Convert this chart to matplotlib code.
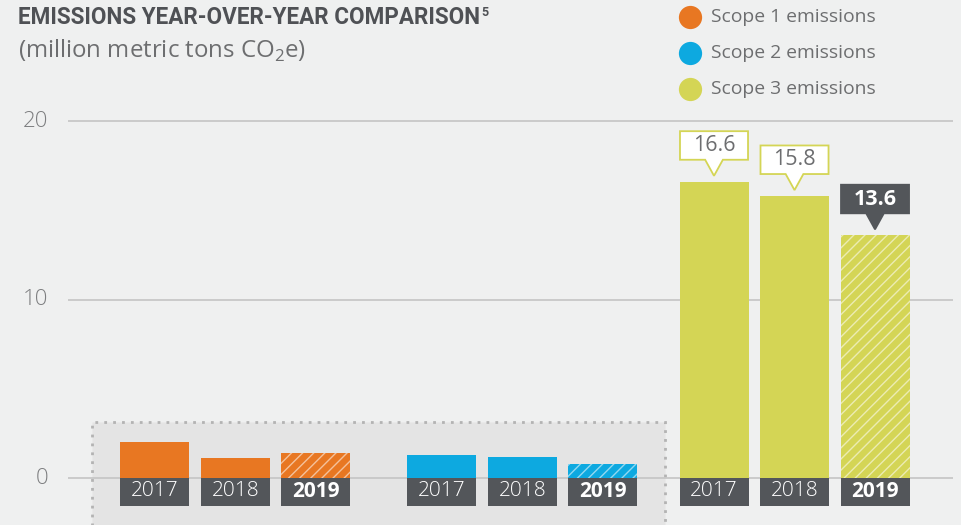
import matplotlib.pyplot as plt
from matplotlib.patches import Rectangle, Polygon

plt.rcParams['font.family'] = ['Open Sans', 'DejaVu Sans']
plt.rcParams['mathtext.fontset'] = 'custom'
plt.rcParams['mathtext.rm'] = 'Open Sans'
plt.rcParams['hatch.linewidth'] = 1.0

# data
years = ['2017', '2018', '2019']
scopes = ['Scope 1 emissions', 'Scope 2 emissions', 'Scope 3 emissions']
scope1 = [2.0, 1.1, 1.4]
scope2 = [1.3, 1.2, 0.8]
scope3 = [16.6, 15.8, 13.6]
yticks = [0, 10, 20]

colors = ['#e87722', '#0da9e0', '#d4d555']
dark = '#53565a'
txt = '#6d6e70'
bg = '#eff0f0'

fig = plt.figure(figsize=(9.61, 5.25), dpi=100)
fig.patch.set_facecolor(bg)
ax = fig.add_axes([0, 0, 1, 1])
ax.set_facecolor(bg)
ax.set_xlim(-1.925, 10.012)
ax.set_ylim(-2.633, 26.78)
ax.axis('off')
r = fig.canvas.get_renderer()


def fit_width(t, px):
    # scale a text's font so it spans px pixels, like the reference
    fs = t.get_fontsize()
    t.set_fontsize(fs * px / t.get_window_extent(r).width)


group_start = [0, 3.565, 6.944]
width = 0.857

# grey dotted box behind scope 1 and 2
ax.add_patch(Rectangle((-0.783, -3.2), 7.118, 6.34, facecolor='#e4e4e4',
                       edgecolor='#b3b3b3', linestyle=(0, (1, 2.2)), linewidth=2,
                       zorder=0))

# gridlines
for t in yticks:
    ax.hlines(t, -1.081, 9.913, color='#c4c4c4', linewidth=1.2, zorder=1)
    ax.text(-1.33, t, str(t), ha='right', va='center', fontsize=16,
            color='#7d7e80', fontweight='light')

for g, vals in enumerate([scope1, scope2, scope3]):
    xs = [group_start[g] + i for i in range(3)]
    for i, (x, v) in enumerate(zip(xs, vals)):
        if i == 2:
            ax.bar(x, v, width=width, color=colors[g], edgecolor=(1, 1, 1, 0.55),
                   linewidth=0, hatch='///', zorder=2)
        else:
            ax.bar(x, v, width=width, color=colors[g], linewidth=0, zorder=2)
        # year label box
        ax.bar(x, -1.57, width=width, color=dark, linewidth=0, zorder=3)
        ax.text(x, -0.74, years[i], ha='center', va='center', fontsize=15,
                color='white', fontweight='bold' if i == 2 else 'light', zorder=4)

# callouts on scope 3
xs3 = [group_start[2] + i for i in range(3)]
bw, bh, ph, pw = 0.845, 1.6, 0.9, 0.11
for i, (x, v) in enumerate(zip(xs3, scope3)):
    tip = v + 0.33
    b0 = tip + ph
    last = i == 2
    fc = dark if last else 'white'
    ec = dark if last else colors[2]
    poly = [(x - bw / 2, b0), (x - pw, b0), (x, tip), (x + pw, b0),
            (x + bw / 2, b0), (x + bw / 2, b0 + bh), (x - bw / 2, b0 + bh)]
    ax.add_patch(Polygon(poly, closed=True, facecolor=fc, edgecolor=ec,
                         linewidth=1.3, zorder=5))
    ax.text(x, b0 + bh / 2, f'{v:.1f}', ha='center', va='center', fontsize=15.5,
            color='white' if last else txt, fontweight='bold' if last else 'normal',
            zorder=6)

# title
title = fig.text(18 / 961, 1 - 18 / 525, 'EMISSIONS YEAR-OVER-YEAR COMPARISON',
                 ha='left', va='center', fontsize=20, fontweight='bold',
                 color='#4f5155', family=['Roboto', 'DejaVu Sans'])
fit_width(title, 462)
x1 = title.get_window_extent(r).x1
fig.text((x1 + 1) / 961, 1 - 12 / 525, '5', ha='left', va='center', fontsize=9,
         fontweight='bold', color='#4f5155', family=['Roboto', 'DejaVu Sans'])
sub = fig.text(18 / 961, 1 - 51 / 525, '(million metric tons CO$_2$e)', ha='left',
               va='center', fontsize=14.5, color=txt)
fit_width(sub, 288)

# legend
for k, (s, c) in enumerate(zip(scopes, colors)):
    yy = 1 - (17 + 36 * k) / 525
    ax.scatter([690 / 961], [yy], s=280, color=c, transform=fig.transFigure,
               clip_on=False, linewidths=0, zorder=7)
    lt = fig.text(711 / 961, yy, s, ha='left', va='center', fontsize=13.3,
                  color=txt)
    fit_width(lt, 165)

fig.savefig('out.png', dpi=100, facecolor=bg)
